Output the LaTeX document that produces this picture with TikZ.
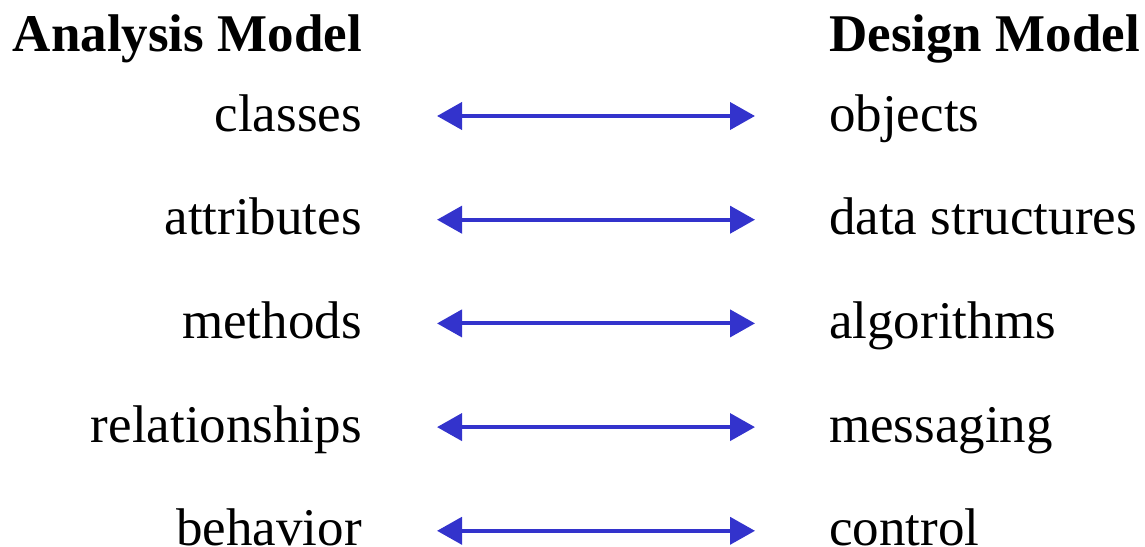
\documentclass[tikz,border=0pt]{standalone}
\usepackage{fontspec}
\setmainfont{Liberation Serif}
\usetikzlibrary{arrows.meta}
\definecolor{arrowblue}{HTML}{3333CC}
\begin{document}
\begin{tikzpicture}[x=1pt,y=-1pt,
  lbl/.style={inner sep=0pt,font=\fontsize{53}{60}\selectfont},
  head/.style={inner sep=0pt,font=\fontsize{53}{60}\selectfont\bfseries},
  link/.style={arrowblue,line width=4pt,{Triangle[length=25pt,width=27pt]}-{Triangle[length=25pt,width=27pt]}}]
\useasboundingbox (0,0) rectangle (1145,546);
\node[head,anchor=base east] (ha) at (362,51) {Analysis Model};
\node[head,anchor=base west] (hd) at (829,51) {Design Model};
\foreach \i/\a/\d [evaluate=\i as \yy using 131+(\i-1)*103.7] in {1/classes/objects,2/attributes/data structures,3/methods/algorithms,4/relationships/messaging,5/behavior/control}{
  \node[lbl,anchor=base east] (l\i) at (362,\yy) {\a};
  \node[lbl,anchor=base west] (r\i) at (829,\yy) {\d};
  \coordinate (s\i) at (437,\yy-15);
  \coordinate (e\i) at (755,\yy-15);
  \draw[link] (s\i) -- (e\i);
}
\end{tikzpicture}
\end{document}
